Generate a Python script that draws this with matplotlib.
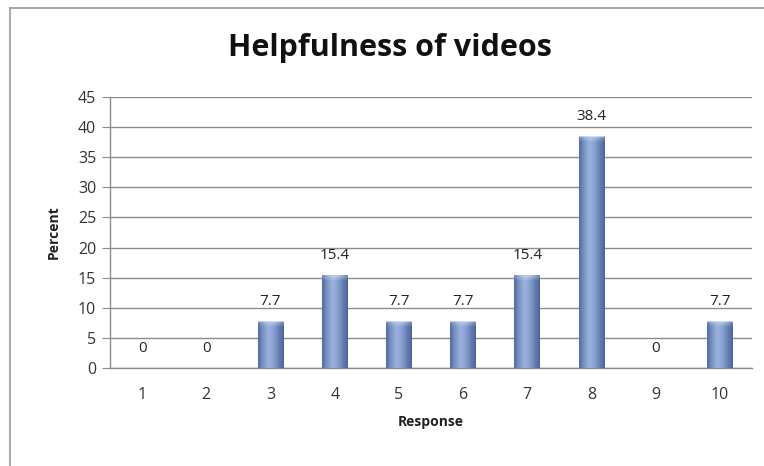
import matplotlib
matplotlib.use("Agg")
import matplotlib.pyplot as plt
import numpy as np
from matplotlib.colors import LinearSegmentedColormap
from matplotlib.lines import Line2D

categories = ["1", "2", "3", "4", "5", "6", "7", "8", "9", "10"]
values = [0, 0, 7.7, 15.4, 7.7, 7.7, 15.4, 38.4, 0, 7.7]
value_labels = ["0", "0", "7.7", "15.4", "7.7", "7.7", "15.4", "38.4", "0", "7.7"]
yticks = [0, 5, 10, 15, 20, 25, 30, 35, 40, 45]

plt.rcParams['font.family'] = ['Open Sans', 'DejaVu Sans']

fig = plt.figure(figsize=(7.64, 4.66), dpi=100)
ax = fig.add_axes([110/764, 1-368/466, (752-110)/764, (368-97)/466])

x = np.arange(len(categories))
bars = ax.bar(x, values, width=0.4, color='none', edgecolor='none', zorder=3)

cmap = LinearSegmentedColormap.from_list(
    'cyl', ['#4f6a9c', '#7c95c6', '#9cb2de', '#8aa2d2', '#6680b4', '#4c6394'])
capcmap = LinearSegmentedColormap.from_list(
    'cap', ['#8ea6d4', '#b8cbee', '#c9d8f4', '#b8cbee', '#8ea6d4'])
grad = np.linspace(0, 1, 256).reshape(1, -1)
for b, v in zip(bars, values):
    if v <= 0:
        continue
    x0 = b.get_x(); w = b.get_width()
    im = ax.imshow(grad, cmap=cmap, aspect='auto', extent=[x0, x0 + w, 0, v],
                   zorder=3, interpolation='bicubic')
    im.set_clip_path(b)
    cap_h = 0.9
    yy = np.linspace(1, 0, 32).reshape(-1, 1)
    xx = np.linspace(-1, 1, 64).reshape(1, -1)
    alpha = np.clip(yy * (1 - 0.3 * xx**2), 0, 1) * 0.85
    rgba = capcmap(np.tile(grad[:, ::4], (32, 1)))
    rgba[..., 3] = alpha
    ax.imshow(rgba, aspect='auto', extent=[x0, x0 + w, v - cap_h, v],
              zorder=4, interpolation='bicubic')

for xi, v, lab in zip(x, values, value_labels):
    ax.annotate(lab, (xi, v), xytext=(0, 9), textcoords='offset points',
                ha='center', va='bottom', fontsize=11, color='#222222')

ax.set_xlim(-0.5, len(categories) - 0.5)
ax.set_ylim(0, 45)
ax.set_yticks(yticks)
ax.set_yticklabels([str(t) for t in yticks])
ax.set_xticks(x)
ax.set_xticklabels(categories)
ax.yaxis.grid(True, color='#8c8c8c', linewidth=1.0, zorder=0)
ax.set_axisbelow(True)
for s in ['top', 'right']:
    ax.spines[s].set_visible(False)
for s in ['left', 'bottom']:
    ax.spines[s].set_color('#8c8c8c')
    ax.spines[s].set_linewidth(1.0)
ax.tick_params(axis='y', length=6, color='#8c8c8c', labelsize=11.5, labelcolor='#333333', pad=4)
ax.tick_params(axis='x', length=0, labelsize=11.5, labelcolor='#333333', pad=14)

ax.set_ylabel('Percent', fontsize=10, fontweight='bold', color='#222222', labelpad=12)
ax.set_xlabel('Response', fontsize=10, fontweight='bold', color='#222222', labelpad=8)

fig.text(390/764, 1-48/466, 'Helpfulness of videos', ha='center', va='center',
         fontsize=22, fontweight='bold', color='#111111')

fig.add_artist(Line2D([10/764, 1], [1-8/466, 1-8/466], transform=fig.transFigure,
                      color='#9a9a9a', linewidth=1.2))
fig.add_artist(Line2D([10/764, 10/764], [0, 1-8/466], transform=fig.transFigure,
                      color='#9a9a9a', linewidth=1.2))

fig.savefig('out.png', dpi=100, facecolor='white')
